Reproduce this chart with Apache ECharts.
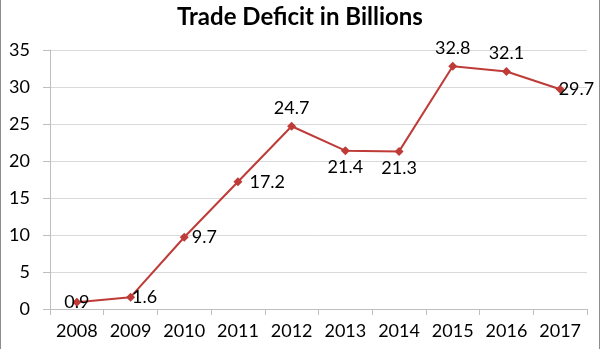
<!DOCTYPE html>
<html><head><meta charset="utf-8">
<script src="https://cdn.jsdelivr.net/npm/echarts@6/dist/echarts.min.js"></script>
<style>html,body{margin:0;padding:0;background:#fff}#c{width:600px;height:349px}</style>
</head><body><div id="c"></div>
<script>
var years = ['2008','2009','2010','2011','2012','2013','2014','2015','2016','2017'];
var deficit = [0.9, 1.6, 9.7, 17.2, 24.7, 21.4, 21.3, 32.8, 32.1, 29.7];
var labelPos = ['inside','right','right','right','top','bottom','bottom','top','top','right'];
var labelDist = [0, -3, 3, 7, 5, 3, 3, 5, 5, -6];
var FONT = 'Lato';
var chart = echarts.init(document.getElementById('c'), null, {renderer:'canvas'});
chart.setOption({
  animation:false,
  backgroundColor:'#fff',
  title:{text:'Trade Deficit in Billions',left:'center',top:0,
    textStyle:{fontFamily:FONT,fontSize:24,fontWeight:'bold',color:'#000'}},
  grid:{left:50,right:13,top:50,bottom:40,containLabel:false},
  xAxis:{type:'category',data:years,boundaryGap:true,
    axisLine:{lineStyle:{color:'#bfbfbf',width:1}},
    axisTick:{show:true,alignWithLabel:false,length:6,lineStyle:{color:'#bfbfbf'}},
    axisLabel:{fontFamily:FONT,fontSize:18,color:'#000',margin:13,interval:0},
    splitLine:{show:false}},
  yAxis:{type:'value',min:0,max:35,interval:5,
    axisLine:{show:true,lineStyle:{color:'#bfbfbf',width:1}},
    axisTick:{show:true,length:7,lineStyle:{color:'#bfbfbf'}},
    axisLabel:{fontFamily:FONT,fontSize:18,color:'#000',margin:20},
    splitLine:{lineStyle:{color:'#d9d9d9',width:1}}},
  series:[{type:'line',data:deficit.map(function(v,i){return {value:v,label:{position:labelPos[i],distance:labelDist[i]}};}),
    symbol:'diamond',symbolSize:9,
    lineStyle:{color:'#be3b37',width:2},
    itemStyle:{color:'#be3b37'},
    label:{show:true,fontFamily:FONT,fontSize:18,color:'#000'}}],
  graphic:[
    {type:'line',shape:{x1:0.5,y1:0,x2:0.5,y2:349},style:{stroke:'#8c8c8c',lineWidth:1}},
    {type:'line',shape:{x1:599.5,y1:0,x2:599.5,y2:349},style:{stroke:'#8c8c8c',lineWidth:1}}
  ]
});
</script></body></html>
